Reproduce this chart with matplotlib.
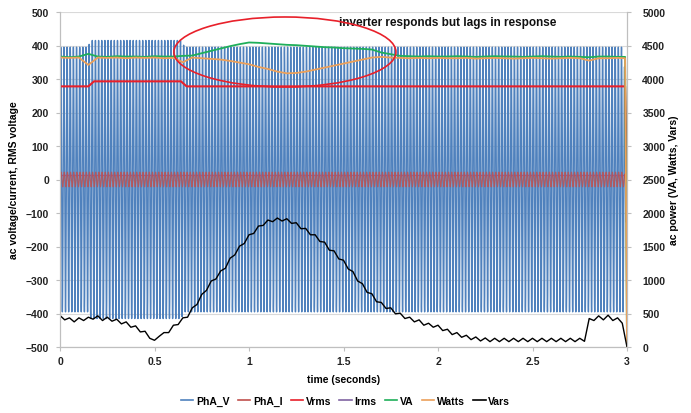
import numpy as np
import matplotlib
matplotlib.use("Agg")
import matplotlib.pyplot as plt
from matplotlib.patches import Ellipse
from matplotlib.lines import Line2D

plt.rcParams['font.family'] = ['Liberation Sans', 'DejaVu Sans']
plt.rcParams['font.weight'] = 'bold'

# ---------------- data ----------------
freq_hz = 60.0
# envelope of phase-A voltage waveform (peak volts)
v_env_t = [0.0, 0.15, 0.16, 0.64, 0.66, 2.985, 3.0]
v_env_a = [395, 395, 415, 415, 395, 395, 0]
# envelope of phase-A current waveform (peak amps)
i_env_t = [0.0, 2.985, 3.0]
i_env_a = [22, 22, 0]

# RMS voltage / current
vrms_t = [0.0, 0.15, 0.18, 0.64, 0.67, 2.99, 3.0]
vrms_v = [278, 278, 293, 293, 278, 278, 0]
irms_t = [0.0, 2.99, 3.0]
irms_v = [12, 12, 0]

# power series (secondary axis) at 0.05 s steps + end points
pw_t = [round(0.05 * k, 2) for k in range(60)] + [2.99, 3.0]
va = [4335, 4325, 4335, 4375, 4335, 4330, 4340, 4335, 4335, 4330,
      4340, 4335, 4335, 4345, 4350, 4385, 4420, 4455, 4490, 4520,
      4545, 4540, 4530, 4520, 4510, 4505, 4495, 4485, 4475, 4470,
      4460, 4455, 4450, 4440, 4395, 4370, 4345, 4340, 4335, 4340,
      4335, 4335, 4340, 4335, 4330, 4335, 4340, 4335, 4335, 4330,
      4335, 4340, 4335, 4330, 4335, 4330, 4325, 4335, 4335, 4330,
      4330, 0]
watts = [4320, 4315, 4320, 4210, 4320, 4315, 4320, 4310, 4320, 4315,
         4320, 4310, 4315, 4250, 4320, 4310, 4300, 4290, 4270, 4245,
         4220, 4180, 4150, 4110, 4085, 4090, 4110, 4140, 4170, 4200,
         4230, 4260, 4290, 4320, 4330, 4320, 4315, 4310, 4315, 4310,
         4315, 4310, 4310, 4315, 4305, 4310, 4315, 4310, 4305, 4310,
         4315, 4310, 4305, 4310, 4315, 4310, 4275, 4310, 4310, 4315,
         4310, 0]

# reactive power at 0.025 s steps
vars_t = [round(0.025 * k, 3) for k in range(121)]
vars_v = [470, 405, 435, 375, 435, 395, 445, 415, 465, 395,
          445, 385, 415, 345, 375, 295, 315, 225, 235, 130,
          100, 160, 215, 215, 325, 335, 435, 445, 585, 635,
          785, 845, 985, 1015, 1135, 1175, 1325, 1375, 1505, 1545,
          1675, 1695, 1805, 1815, 1895, 1870, 1925, 1880, 1915, 1845,
          1855, 1765, 1770, 1675, 1675, 1575, 1565, 1445, 1435, 1315,
          1295, 1165, 1125, 985, 945, 815, 795, 675, 665, 575,
          585, 495, 505, 425, 445, 375, 405, 325, 355, 295,
          325, 245, 265, 185, 215, 145, 175, 110, 150, 90,
          135, 80, 130, 80, 130, 80, 130, 80, 130, 80,
          130, 80, 130, 80, 130, 80, 130, 80, 130, 80,
          130, 85, 425, 395, 465, 405, 475, 395, 435, 355,
          0]

x_ticks = [0, 0.5, 1, 1.5, 2, 2.5, 3]
y1_ticks = list(range(-500, 501, 100))
y2_ticks = list(range(0, 5001, 500))
series_names = ['PhA_V', 'PhA_I', 'Vrms', 'Irms', 'VA', 'Watts', 'Vars']
colors = ['#4F81BD', '#C0504D', '#E8202A', '#8064A2', '#1FAF5A', '#EBA05A', '#000000']

# ---------------- waveforms ----------------
t = np.linspace(0, 3.0, 180 * 64 + 1)
phase_v = np.interp(t, v_env_t, v_env_a) * np.sin(2 * np.pi * freq_hz * t)
phase_i = np.interp(t, i_env_t, i_env_a) * np.sin(2 * np.pi * freq_hz * t - 0.6)

# ---------------- figure ----------------
fig = plt.figure(figsize=(6.91, 4.14), dpi=100)
ax = fig.add_axes([60 / 691, (414 - 348) / 414, 567 / 691, 335 / 414])
ax2 = ax.twinx()

ax.plot(t, phase_v, color=colors[0], lw=1.0, zorder=2)
ax.plot(t, phase_i, color=colors[1], lw=0.8, alpha=0.85, zorder=3)
ax.plot(vrms_t, vrms_v, color=colors[2], lw=1.5, zorder=4)
ax.plot(irms_t, irms_v, color=colors[3], lw=1.0, zorder=2.5)

ax2.plot(pw_t, va, color=colors[4], lw=1.3)
ax2.plot(pw_t, watts, color=colors[5], lw=1.3)
ax2.plot(vars_t, vars_v, color=colors[6], lw=1.0)

ax.set_xlim(0, 3)
ax.set_ylim(-500, 500)
ax2.set_ylim(0, 5000)
ax.set_xticks(x_ticks)
ax.set_xticklabels([f'{v:g}' for v in x_ticks])
ax.set_yticks(y1_ticks)
ax2.set_yticks(y2_ticks)

ax.grid(axis='y', color='#D9D9D9', lw=0.8, zorder=0)
ax.set_axisbelow(True)

for a in (ax, ax2):
    a.spines['top'].set_visible(False)
    for s in ('left', 'right', 'bottom'):
        a.spines[s].set_color('#BFBFBF')
        a.spines[s].set_linewidth(0.8)
    a.tick_params(labelsize=7.5, colors='#BFBFBF', labelcolor='#222222', length=3, width=0.8)
ax.tick_params(axis='y', pad=5)
ax2.tick_params(axis='y', pad=8)

ax.set_xlabel('time (seconds)', fontsize=7.5, fontweight='bold', labelpad=6)
ax.set_ylabel('ac voltage/current, RMS voltage', fontsize=7.5, fontweight='bold', labelpad=5)
ax2.set_ylabel('ac power (VA, Watts, Vars)', fontsize=7.5, fontweight='bold', labelpad=3)

for lab in ax.get_xticklabels() + ax.get_yticklabels() + ax2.get_yticklabels():
    lab.set_fontweight('bold')

ell = Ellipse((1.19, 4403), width=1.175, height=1045, fill=False,
              edgecolor='#E8202A', lw=1.2, zorder=10)
ax2.add_patch(ell)
ax2.text(2.05, 4850, 'inverter responds but lags in response', ha='center', va='center',
         fontsize=8.5, fontweight='bold', color='#111111')

handles = [Line2D([0], [0], color=c, lw=1.2) for c in colors]
fig.legend(handles, series_names, loc='lower center', bbox_to_anchor=(0.5, -0.005), ncol=7,
           frameon=False, handlelength=1.2, handletextpad=0.25, columnspacing=0.8,
           prop={'weight': 'bold', 'size': 7.5})

fig.savefig('out.png', dpi=100)
